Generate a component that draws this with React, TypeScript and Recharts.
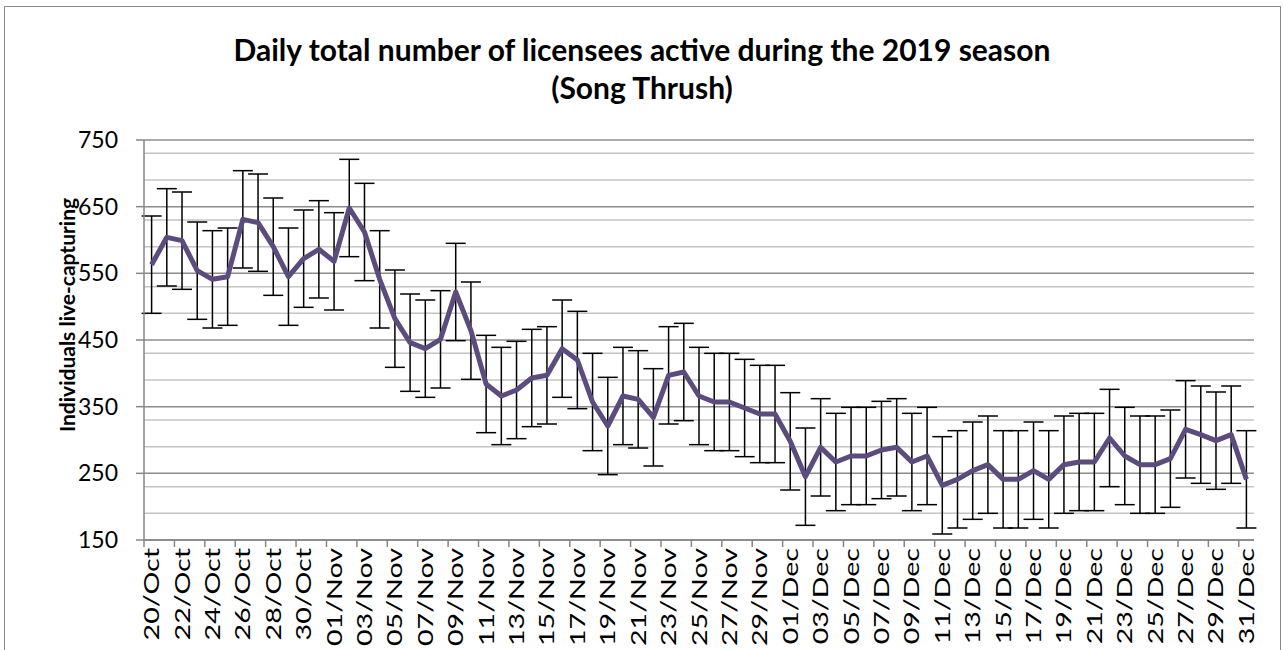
import React from "react";
import {
  LineChart,
  Line,
  XAxis,
  YAxis,
  CartesianGrid,
  ErrorBar,
} from "recharts";

const dates = [
  "20/Oct", "21/Oct", "22/Oct", "23/Oct", "24/Oct", "25/Oct", "26/Oct", "27/Oct", "28/Oct", "29/Oct", "30/Oct", "31/Oct",
  "01/Nov", "02/Nov", "03/Nov", "04/Nov", "05/Nov", "06/Nov", "07/Nov", "08/Nov", "09/Nov", "10/Nov",
  "11/Nov", "12/Nov", "13/Nov", "14/Nov", "15/Nov", "16/Nov", "17/Nov", "18/Nov", "19/Nov", "20/Nov",
  "21/Nov", "22/Nov", "23/Nov", "24/Nov", "25/Nov", "26/Nov", "27/Nov", "28/Nov", "29/Nov", "30/Nov",
  "01/Dec", "02/Dec", "03/Dec", "04/Dec", "05/Dec", "06/Dec", "07/Dec", "08/Dec", "09/Dec", "10/Dec",
  "11/Dec", "12/Dec", "13/Dec", "14/Dec", "15/Dec", "16/Dec", "17/Dec", "18/Dec", "19/Dec", "20/Dec",
  "21/Dec", "22/Dec", "23/Dec", "24/Dec", "25/Dec", "26/Dec", "27/Dec", "28/Dec", "29/Dec", "30/Dec", "31/Dec",
];

const active = [
  563, 604, 599, 554, 541, 545, 631, 626, 590, 545, 572, 586,
  568, 648, 612, 541, 482, 446, 437, 451, 522, 464,
  384, 366, 375, 393, 397, 437, 420, 357, 321, 366,
  361, 334, 397, 402, 366, 357, 357, 348, 339, 339,
  298, 245, 289, 267, 276, 276, 285, 289, 267, 276,
  232, 241, 254, 263, 241, 241, 254, 241, 263, 267,
  267, 303, 276, 263, 263, 272, 316, 308, 299, 308, 241,
];

// the error bars are the same height everywhere
const errorMargin = 73;

const yTicks = [150, 250, 350, 450, 550, 650, 750];
const minorLines = [
  170, 190, 210, 230, 270, 290, 310, 330, 370, 390, 410, 430,
  470, 490, 510, 530, 570, 590, 610, 630, 670, 690, 710, 730,
];
const labelIdx = dates.map((_, i) => i).filter((i) => i % 2 === 0);

const rows = dates.map((d, i) => ({ idx: i, date: d, value: active[i], err: errorMargin }));

const W = 1283;
const H = 650;
const PLOT_W = 1110;
const STEP = PLOT_W / dates.length;
const AXIS_GREY = "#868686";
const FONT = "Lato, 'Open Sans', sans-serif";

function DateTick(props: any) {
  const { x, y, payload } = props;
  const tx = x - STEP / 2;
  return (
    <g>
      <line x1={tx} y1={y - 7} x2={tx} y2={y} stroke={AXIS_GREY} strokeWidth={1.5} />
      <text
        transform={`translate(${x + 7.5},${y + 1}) rotate(-90) scale(1.3,1)`}
        textAnchor="end"
        fontSize={22}
        fontFamily={FONT}
        fill="#000"
      >
        {dates[payload.value]}
      </text>
    </g>
  );
}

export default function App() {
  return (
    <div style={{ position: "absolute", left: 0, top: 0, width: W, height: H, overflow: "hidden", background: "#fff", fontFamily: FONT }}>
      <div
        style={{
          position: "absolute",
          left: 4,
          top: 6,
          width: 1277,
          height: 700,
          border: "1.5px solid #8a8a8a",
          boxSizing: "border-box",
        }}
      />
      <div style={{ position: "absolute", left: 0, top: 0 }}>
        <LineChart width={W} height={H} data={rows} margin={{ top: 140, right: 29, left: 0, bottom: 0 }}>
          <CartesianGrid vertical={false} horizontalValues={minorLines} stroke="#c4c4c4" strokeWidth={1.5} />
          <CartesianGrid vertical={false} horizontalValues={yTicks} stroke="#8c8c8c" strokeWidth={1.5} />
          <XAxis
            dataKey="idx"
            type="number"
            domain={[-0.5, dates.length - 0.5]}
            ticks={labelIdx}
            interval={0}
            height={110}
            tickSize={7}
            tickMargin={0}
            tickLine={false}
            axisLine={{ stroke: AXIS_GREY, strokeWidth: 1.5 }}
            tick={<DateTick />}
          />
          <YAxis
            type="number"
            domain={[150, 750]}
            ticks={yTicks}
            width={144}
            tickSize={8}
            tickMargin={18}
            axisLine={{ stroke: AXIS_GREY, strokeWidth: 1.5 }}
            tickLine={{ stroke: AXIS_GREY, strokeWidth: 1.5 }}
            tick={{ fill: "#000", fontSize: 23, fontFamily: FONT }}
          />
          <Line dataKey="value" stroke="none" dot={false} isAnimationActive={false}>
            <ErrorBar dataKey="err" width={10} stroke="#000" strokeWidth={1.5} direction="y" />
          </Line>
          <Line
            dataKey="value"
            type="linear"
            stroke="#5C4B7D"
            strokeWidth={5}
            strokeLinejoin="round"
            dot={false}
            activeDot={false}
            isAnimationActive={false}
          />
        </LineChart>
      </div>
      <svg width={W} height={H} style={{ position: "absolute", left: 0, top: 0, pointerEvents: "none" }}>
        <text x={642} y={61} textAnchor="middle" fontSize={30} fontWeight={700} fontFamily={FONT} fill="#000">
          Daily total number of licensees active during the 2019 season
        </text>
        <text x={642} y={99} textAnchor="middle" fontSize={30} fontWeight={700} fontFamily={FONT} fill="#000">
          (Song Thrush)
        </text>
        <text
          transform="translate(75,315) rotate(-90)"
          textAnchor="middle"
          fontSize={21}
          fontWeight={700}
          fontFamily={FONT}
          fill="#000"
        >
          Individuals live-capturing
        </text>
      </svg>
    </div>
  );
}
